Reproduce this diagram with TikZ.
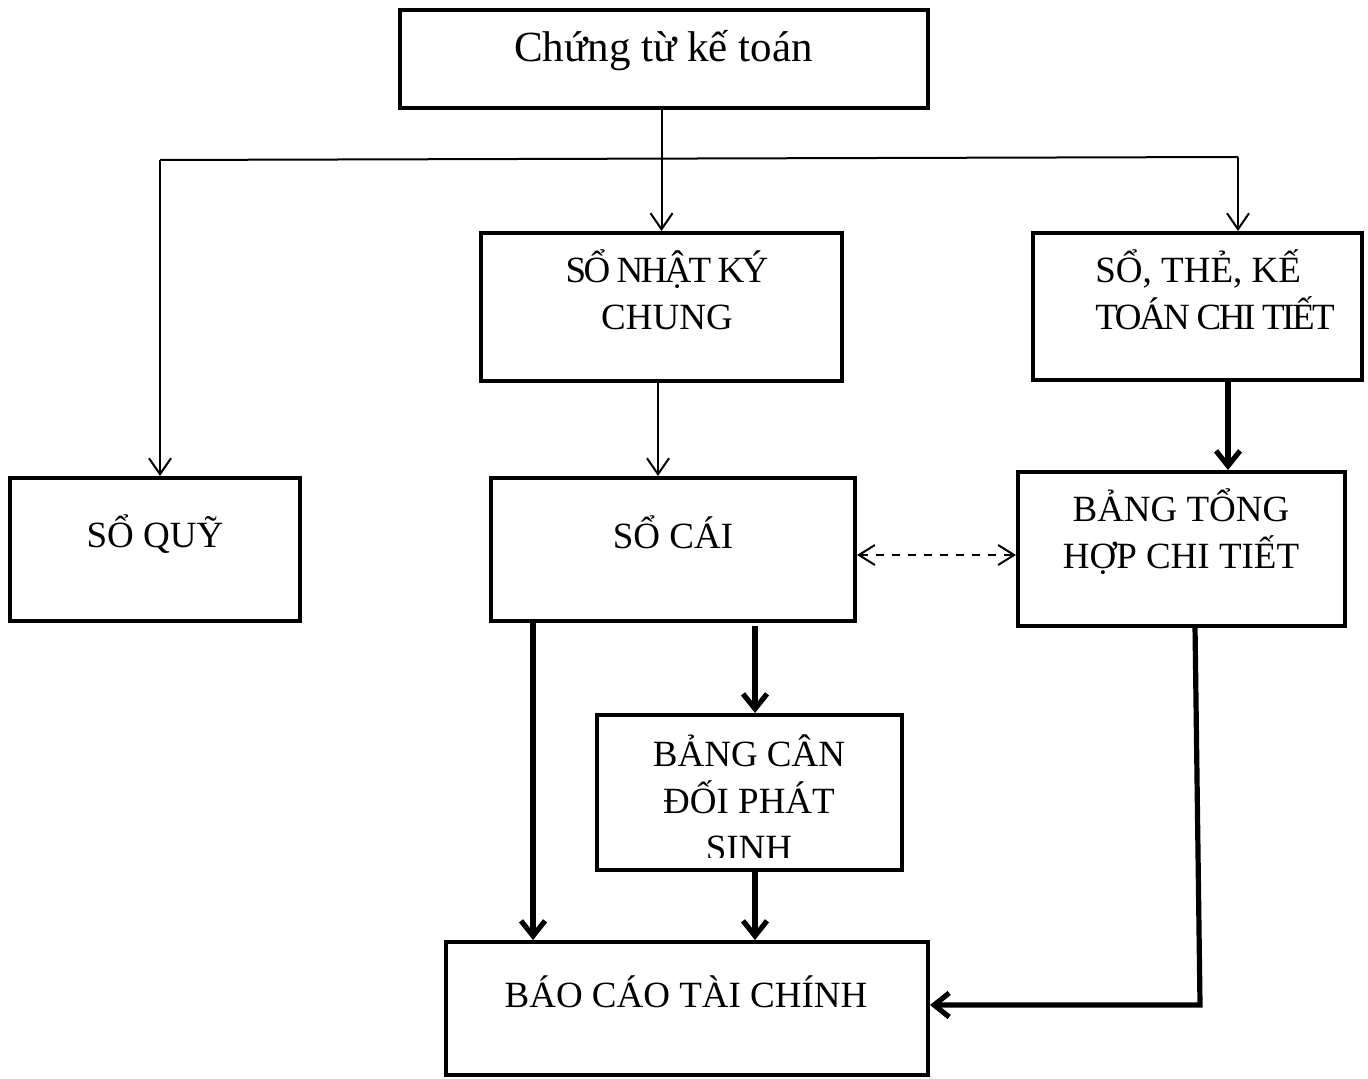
\documentclass[tikz,border=0pt]{standalone}
\usepackage{fontspec}
\setmainfont{Liberation Serif}
\usetikzlibrary{arrows.meta,calc}
\tikzset{
  box/.style={draw, rectangle, line width=2pt, inner sep=0pt},
  lbl/.style={inner sep=0pt, anchor=base, align=center, font=\fontsize{18.5}{23.5}\selectfont},
  thinarrow/.style={line width=1pt, -{Straight Barb[length=8pt,width=11pt]}},
  thinline/.style={line width=1pt},
  thickarrow/.style={line width=2.6pt, line join=miter, -{Straight Barb[length=7.5pt,width=12pt]}},
  dasharrow/.style={line width=1pt, dash pattern=on 4pt off 4pt, {Straight Barb[length=8pt,width=10pt]}-{Straight Barb[length=8pt,width=10pt]}}
}
\newfontfamily\condA[LetterSpace=-7.5]{Liberation Serif}
\newfontfamily\condB[LetterSpace=-6.8]{Liberation Serif}
\begin{document}
\begin{tikzpicture}[x=0.5pt,y=-0.5pt]
\useasboundingbox (0,0) rectangle (1368,1079);
% boxes
\node[box, minimum width=264pt, minimum height=49pt] (top) at (664,59) {};
\node[box, minimum width=180.5pt, minimum height=74pt] (nkc) at (661.5,307) {};
\node[box, minimum width=164.5pt, minimum height=73.5pt] (stk) at (1197.5,306.5) {};
\node[box, minimum width=145pt, minimum height=71.5pt] (sq) at (155,549.5) {};
\node[box, minimum width=182pt, minimum height=71.5pt] (sc) at (673,549.5) {};
\node[box, minimum width=163.5pt, minimum height=77pt] (bth) at (1181.5,549) {};
\node[box, minimum width=152.5pt, minimum height=77.5pt] (bcd) at (749.5,792.5) {};
\node[box, minimum width=241pt, minimum height=66.5pt] (bctc) at (687,1008.5) {};
% texts (multi-line nodes: base = last line)
\node[lbl, font=\fontsize{21.5}{25}\selectfont] (topt) at (663.5,62) {Chứng từ kế toán};
\node[lbl] (nkct) at (667,330) {{\condA SỔ NHẬT KÝ}\\CHUNG};
\node[lbl, align=left, anchor=base west] (stkt) at (1095,330) {SỔ, THẺ, KẾ\\{\condB TOÁN CHI TIẾT}};
\node[lbl] (sqt) at (155,547) {SỔ QUỸ};
\node[lbl] (sct) at (673,548) {SỔ CÁI};
\node[lbl] (btht) at (1181,568) {BẢNG TỔNG\\HỢP CHI TIẾT};
\begin{scope}
\clip (599,717) rectangle (900,857);
\node[lbl] (bcdt) at (749,860) {BẢNG CÂN\\ĐỐI PHÁT\\SINH};
\end{scope}
\node[lbl] (bctct) at (686,1007) {BÁO CÁO TÀI CHÍNH};
% helper coordinates
\coordinate (hl) at (160,160);
\coordinate (hr) at (1238,157);
\coordinate (xa) at (658,0);
\coordinate (xb) at (1228,0);
\coordinate (xc) at (533,0);
\coordinate (xd) at (755,0);
\coordinate (sd) at (755,626);
\coordinate (bs) at (1195,626);
\coordinate (bk) at (1200,1005);
\coordinate (dl) at ($(sc.east)+(0,5.5)$);
% connectors
\draw[thinarrow] (top.south -| nkc.north) -- (nkc.north);
\draw[thinline] (hl) -- (hr);
\draw[thinarrow] (hl) -- (hl |- sq.north);
\draw[thinarrow] (hr) -- (hr |- stk.north);
\draw[thinarrow] (xa |- nkc.south) -- (xa |- sc.north);
\draw[thickarrow] (xb |- stk.south) -- (xb |- bth.north);
\draw[dasharrow] (dl) -- (dl -| bth.west);
\draw[thickarrow] (xc |- sc.south) -- (xc |- bctc.north);
\draw[thickarrow] (sd) -- (sd |- bcd.north);
\draw[thickarrow] (xd |- bcd.south) -- (xd |- bctc.north);
\draw[thickarrow] (bs) -- (bk) -- (bk -| bctc.east);
\end{tikzpicture}
\end{document}
